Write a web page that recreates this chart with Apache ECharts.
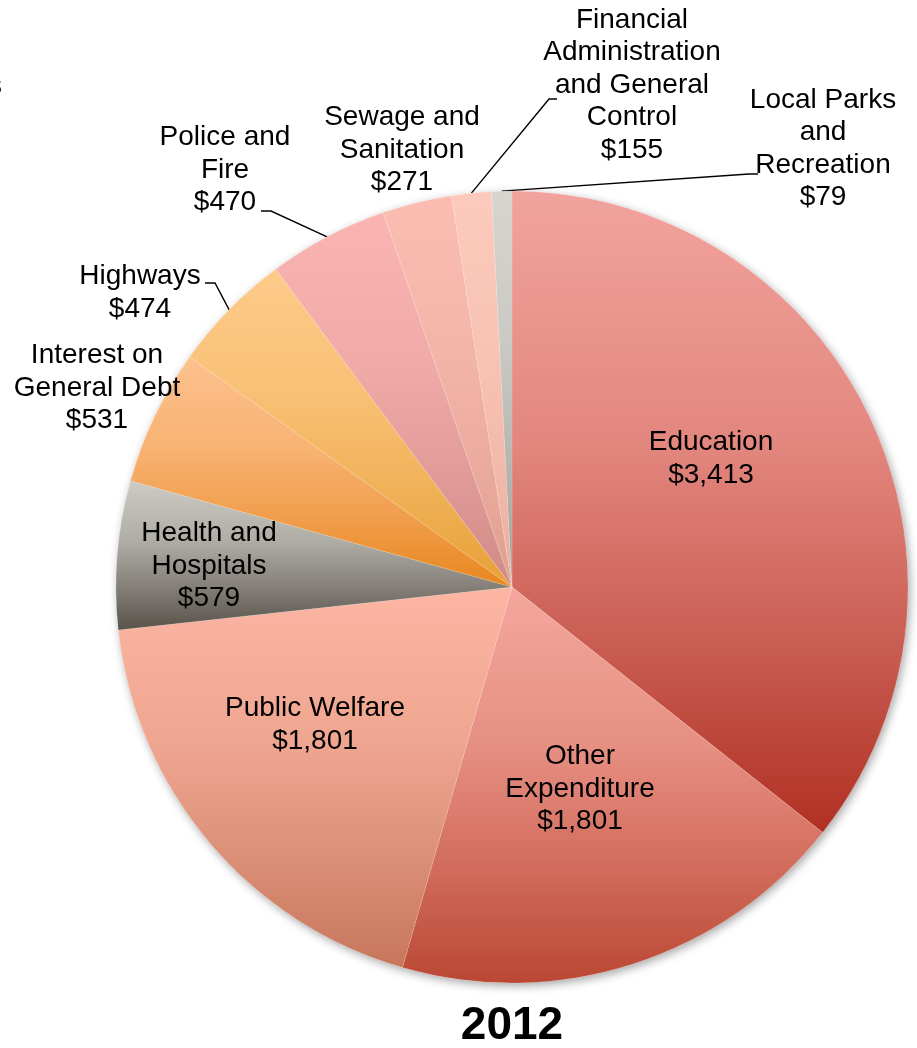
<!DOCTYPE html>
<html>
<head>
<meta charset="utf-8">
<script src="https://cdn.jsdelivr.net/npm/echarts@6/dist/echarts.min.js"></script>
<style>
html,body{margin:0;padding:0;background:#fff;}
#chart{width:917px;height:1048px;}
</style>
</head>
<body>
<div id="chart"></div>
<script>
// ---- data ----
const categories = [
  'Education',
  'Other\nExpenditure',
  'Public Welfare',
  'Health and\nHospitals',
  'Interest on\nGeneral Debt',
  'Highways',
  'Police and\nFire',
  'Sewage and\nSanitation',
  'Financial\nAdministration\nand General\nControl',
  'Local Parks\nand\nRecreation'
];
const values = [3413, 1801, 1801, 579, 531, 474, 470, 271, 155, 79];
const yearLabel = '2012';

// ---- styles ----
const topColors    = ['#F2A39D','#F5A79D','#FCB6A3','#CCCBC4','#FDC18E','#FDCB8A','#FAB5B3','#FBBCB2','#FCCABC','#D6D5D0'];
const bottomColors = ['#B03022','#BA4733','#C7765B','#57524A','#E8861E','#E8A035','#D08A86','#DE9E8F','#EBAE9E','#A09F99'];
const insideLabel  = [true, true, true, true, false, false, false, false, false, false];
// label block centres and leader-line elbows (layout only)
const labelLayoutTable = [
  {x: 711, y: 459},
  {x: 580, y: 789},
  {x: 315, y: 725},
  {x: 209, y: 566},
  {x: 97,  y: 388},
  {x: 140, y: 293, line: [[215, 283], [205, 283]]},
  {x: 225, y: 170, line: [[271, 211], [261, 211]]},
  {x: 402, y: 150},
  {x: 632, y: 85,  line: [[549, 99], [557, 99]]},
  {x: 823, y: 149, line: [[749, 174], [758, 174]]}
];

const fmt = v => '$' + v.toLocaleString('en-US');

function hexToRgb(h) {
  const n = parseInt(h.slice(1), 16);
  return [(n >> 16) & 255, (n >> 8) & 255, n & 255];
}
function mix(a, b, t) {
  const A = hexToRgb(a), B = hexToRgb(b);
  return 'rgb(' + A.map((v, k) => Math.round(v + (B[k] - v) * t)).join(',') + ')';
}
// eased vertical gradient (light top, dark bottom)
const easeStops = [[0, 0], [0.4, 0.25], [0.7, 0.6], [1, 1]];
function gradient(i) {
  return {
    type: 'linear', x: 0, y: 0, x2: 0, y2: 1,
    colorStops: easeStops.map(s => ({offset: s[0], color: mix(topColors[i], bottomColors[i], s[1])}))
  };
}

const seriesData = categories.map((name, i) => ({
  name: name,
  value: values[i],
  itemStyle: {color: gradient(i)},
  label: {position: insideLabel[i] ? 'inside' : 'outside'},
  labelLine: {show: !!labelLayoutTable[i].line}
}));

const chart = echarts.init(document.getElementById('chart'), null, {renderer: 'canvas'});
chart.setOption({
  animation: false,
  backgroundColor: '#ffffff',
  graphic: [
    {
      type: 'text', left: -12, top: 72,
      style: {text: 's', fontFamily: 'Liberation Sans, Arial, sans-serif', fontSize: 28, fill: '#000'}
    },
    {
      type: 'text', x: 512, y: 1026,
      style: {
        text: yearLabel, textAlign: 'center', textVerticalAlign: 'middle',
        fontFamily: 'Liberation Sans, Arial, sans-serif', fontWeight: 'bold', fontSize: 46, fill: '#000'
      }
    }
  ],
  series: [
    {
      type: 'pie',
      silent: true,
      center: [512, 587],
      radius: [0, 396],
      z: 1,
      label: {show: false},
      labelLine: {show: false},
      itemStyle: {color: '#ffffff', shadowBlur: 10, shadowColor: 'rgba(0,0,0,0.35)', shadowOffsetX: 2, shadowOffsetY: 3},
      data: [{value: values.reduce((a, b) => a + b, 0), name: 'shadow'}]
    },
    {
      type: 'pie',
      center: [512, 587],
      radius: [0, 396],
      startAngle: 90,
      clockwise: true,
      z: 2,
      avoidLabelOverlap: false,
      itemStyle: {borderColor: 'rgba(255,255,255,0.2)', borderWidth: 0.6},
      label: {
        show: true,
        color: '#000',
        fontFamily: 'Liberation Sans, Arial, sans-serif',
        fontSize: 28,
        lineHeight: 32.5,
        align: 'center',
        formatter: p => p.name + '\n' + fmt(p.value)
      },
      labelLine: {
        show: true, length: 10, length2: 10,
        lineStyle: {color: '#000', width: 1.4}
      },
      labelLayout: function (p) {
        const L = labelLayoutTable[p.dataIndex];
        const out = {x: L.x, y: L.y, align: 'center', verticalAlign: 'middle'};
        if (L.line && p.labelLinePoints) {
          out.labelLinePoints = [p.labelLinePoints[0], L.line[0], L.line[1]];
        }
        return out;
      },
      emphasis: {disabled: true},
      data: seriesData
    }
  ]
});
</script>
</body>
</html>
